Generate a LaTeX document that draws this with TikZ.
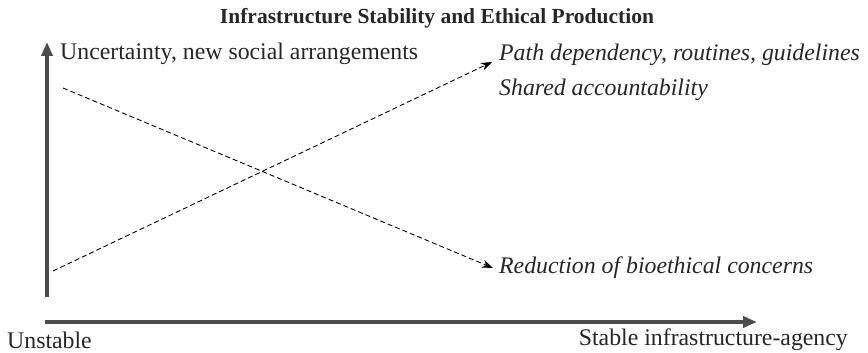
\documentclass[tikz,border=0pt]{standalone}
\usepackage{fontspec}
\setmainfont{Liberation Serif}
\usetikzlibrary{arrows.meta,calc}
\begin{document}
\begin{tikzpicture}[x=1pt,y=-1pt,
  axis/.style={draw=black!70,line width=4pt,-{Triangle[length=14pt,width=11pt]}},
  trend/.style={draw=black,line width=0.9pt,dash pattern=on 5pt off 3pt,-{Stealth[length=11pt,width=8pt]}},
  lbl/.style={inner sep=0pt,font=\fontsize{23.8}{28}\selectfont,text=black!85},
  ilbl/.style={lbl,font=\fontsize{23.8}{28}\selectfont\itshape,anchor=west}]
\useasboundingbox (0,0) rectangle (868,353);
\node[inner sep=0pt,font=\fontsize{21.5}{25}\selectfont\bfseries,text=black!85] (title) at (437,18) {Infrastructure Stability and Ethical Production};
\coordinate (vb) at (47,297);
\coordinate (vt) at (47,42);
\coordinate (hl) at (45,322);
\coordinate (hr) at (757,322);
\draw[axis] (vb) -- (vt);
\draw[axis] (hl) -- (hr);
\node[lbl,anchor=west] (unc) at (60,54) {Uncertainty, new social arrangements};
\node[ilbl] (path) at (499,55) {Path dependency, routines, guidelines};
\node[ilbl] (shared) at (499,90) {Shared accountability};
\node[ilbl] (red) at (499,268) {Reduction of bioethical concerns};
\node[lbl,anchor=west] (unst) at (7,340) {Unstable};
\node[lbl,anchor=east] (stab) at (848,340) {Stable infrastructure-agency};
\coordinate (s1) at (63,88);
\coordinate (s2) at (53,271);
\draw[trend] (s1) -- ($(red.west)+(-6,0)$);
\draw[trend] (s2) -- ($(path.west)+(-7,7)$);
\end{tikzpicture}
\end{document}
